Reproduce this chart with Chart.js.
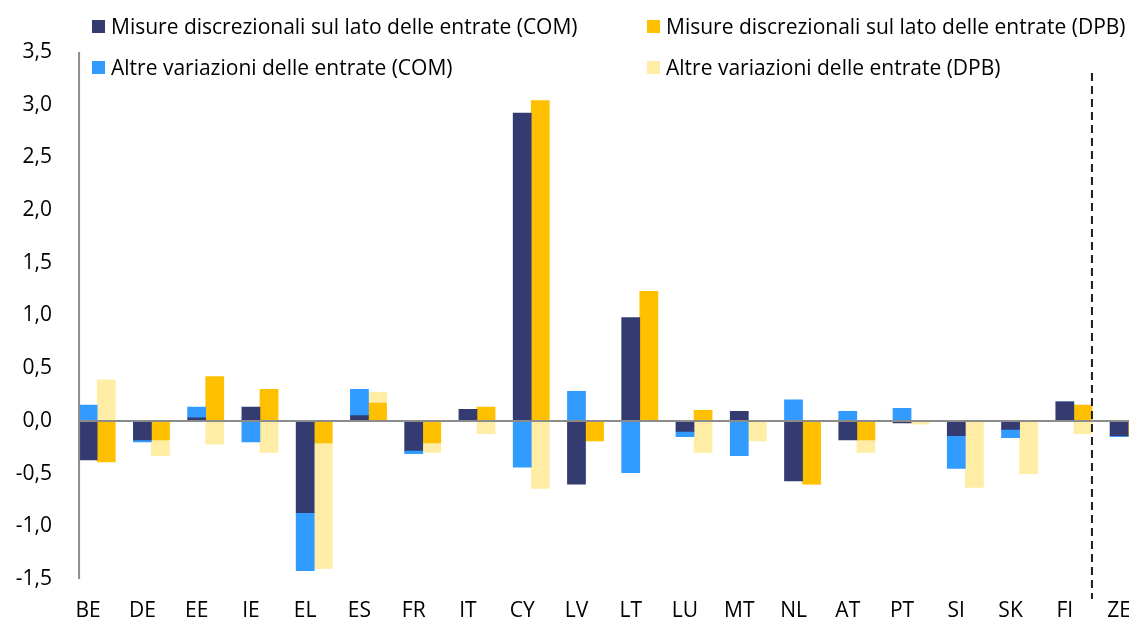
<!DOCTYPE html>
<html>
<head>
<meta charset="utf-8">
<script src="https://cdn.jsdelivr.net/npm/chart.js@4"></script>
<style>
  html, body { margin: 0; padding: 0; overflow: hidden; background: #fff; }
  #wrap { position: relative; width: 1150px; height: 624px; }
  #legend { position: absolute; left: 0; top: 0; width: 1129px; height: 90px; font-family: "Open Sans", sans-serif; font-size: 21px; color: #000; }
  .item { position: absolute; display: flex; align-items: center; white-space: nowrap; }
  .box { width: 13px; height: 13px; margin-right: 6px; }
</style>
</head>
<body>
<div id="wrap">
  <canvas id="revChart"></canvas>
  <div id="legend"></div>
</div>
<script>
// paesi (ZE = zona euro)
const countries = ["BE", "DE", "EE", "IE", "EL", "ES", "FR", "IT", "CY", "LV", "LT", "LU", "MT", "NL", "AT", "PT", "SI", "SK", "FI", "ZE"];

// COM
const discrCOM = [-0.37, -0.18, 0.03, 0.13, -0.87, 0.05, -0.28, 0.11, 2.92, -0.60, 0.98, -0.10, 0.09, -0.57, -0.18, -0.02, -0.14, -0.08, 0.18, -0.14];
const altreCOM = [0.15, -0.02, 0.10, -0.20, -0.55, 0.25, -0.03, 0, -0.44, 0.28, -0.49, -0.05, -0.33, 0.20, 0.09, 0.12, -0.31, -0.08, 0, -0.01];

// DPB
const discrDPB = [-0.39, -0.18, 0.42, 0.30, -0.21, 0.17, -0.21, 0.13, 3.04, -0.19, 1.23, 0.10, 0, -0.60, -0.18, 0, 0, 0, 0.15, -0.15];
const altreDPB = [0.39, -0.15, -0.22, -0.30, -1.19, 0.10, -0.09, -0.12, -0.64, 0, 0, -0.30, -0.19, 0, -0.12, -0.03, -0.63, -0.50, -0.12, 0];

const yTicks = [-1.5, -1.0, -0.5, 0, 0.5, 1.0, 1.5, 2.0, 2.5, 3.0, 3.5];

const gap = countries.map(() => null); // slot vuoto a sinistra, per centrare COM sull'etichetta

const datasets = [
    { label: "", data: gap, stack: "gap", backgroundColor: "rgba(0,0,0,0)" },
    { label: "Misure discrezionali sul lato delle entrate (COM)", data: discrCOM, stack: "COM", backgroundColor: "#343B70" },
    { label: "Altre variazioni delle entrate (COM)", data: altreCOM, stack: "COM", backgroundColor: "#329BFF" },
    { label: "Misure discrezionali sul lato delle entrate (DPB)", data: discrDPB, stack: "DPB", backgroundColor: "#FFC000" },
    { label: "Altre variazioni delle entrate (DPB)", data: altreDPB, stack: "DPB", backgroundColor: "#FFEDA6" }
];

// assi, linea dello zero e separatore tratteggiato prima di ZE
const linesPlugin = {
    id: "lines",
    afterDatasetsDraw(chart) {
        const { ctx, scales: { x, y } } = chart;
        const step = x.getPixelForValue(1) - x.getPixelForValue(0);
        const axisX = x.getPixelForValue(0) - step / 6;
        ctx.save();
        ctx.strokeStyle = "#8C8C8C";
        ctx.lineWidth = 2;
        ctx.beginPath();
        ctx.moveTo(axisX, y.getPixelForValue(yTicks[yTicks.length - 1]));
        ctx.lineTo(axisX, y.getPixelForValue(yTicks[0]));
        ctx.moveTo(axisX, y.getPixelForValue(0));
        ctx.lineTo(chart.width, y.getPixelForValue(0));
        ctx.stroke();

        const sepX = (x.getPixelForValue(countries.length - 2) + x.getPixelForValue(countries.length - 1)) / 2;
        ctx.strokeStyle = "#1E1E1E";
        ctx.setLineDash([8, 5]);
        ctx.beginPath();
        ctx.moveTo(sepX, y.getPixelForValue(3.3));
        ctx.lineTo(sepX, y.getPixelForValue(yTicks[0]) + 20);
        ctx.stroke();
        ctx.restore();
    }
};

const ctx = document.getElementById("revChart").getContext("2d");
new Chart(ctx, {
    type: "bar",
    data: { labels: countries, datasets: datasets },
    options: {
        responsive: true,
        maintainAspectRatio: false,
        animation: false,
        categoryPercentage: 1,
        barPercentage: 1,
        layout: { padding: { top: 52, right: 3, left: 0, bottom: 0 } },
        plugins: {
            legend: { display: false },
            tooltip: { enabled: false }
        },
        scales: {
            x: {
                stacked: true,
                grid: { display: false, drawTicks: false },
                border: { display: false },
                ticks: { color: "#000", padding: 19, font: { family: "Open Sans", size: 21 } },
                afterFit(scale) { scale.height = 45; }
            },
            y: {
                stacked: true,
                min: -1.5,
                max: 3.5,
                afterBuildTicks(scale) { scale.ticks = yTicks.map(v => ({ value: v })); },
                grid: { display: false, drawTicks: false },
                border: { display: false },
                ticks: {
                    color: "#000",
                    padding: 9,
                    font: { family: "Open Sans", size: 21 },
                    callback: v => v.toFixed(1).replace(".", ",")
                },
                afterFit(scale) { scale.width = 61; }
            }
        }
    },
    plugins: [linesPlugin]
});

// legenda a due colonne
const legendPos = [null, [92, 26], [92, 67], [647, 26], [647, 67]];
const legend = document.getElementById("legend");
datasets.forEach((ds, i) => {
    if (!legendPos[i]) return;
    const item = document.createElement("div");
    item.className = "item";
    item.style.left = legendPos[i][0] + "px";
    item.style.top = (legendPos[i][1] - 14) + "px";
    item.style.height = "28px";
    item.innerHTML = '<span class="box" style="background:' + ds.backgroundColor + '"></span><span>' + ds.label + '</span>';
    legend.appendChild(item);
});
</script>
</body>
</html>
